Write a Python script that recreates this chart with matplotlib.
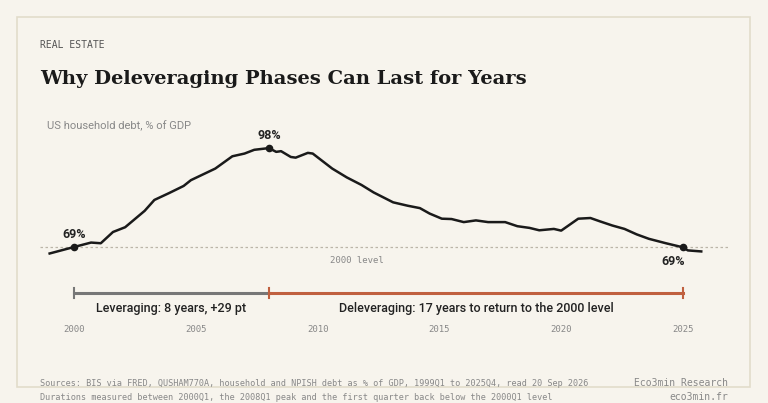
import matplotlib
matplotlib.use("Agg")
import matplotlib.pyplot as plt
from matplotlib.patches import Rectangle

years = [1999.0,2000.0,2000.7,2001.1,2001.6,2002.1,2002.9,2003.3,2003.9,2004.5,2004.8,2005.8,2006.5,2007.0,2007.4,2008.0,
         2008.3,2008.5,2008.9,2009.1,2009.6,2009.8,2010.6,2011.2,2011.8,2012.3,2013.1,2013.7,2014.2,2014.6,2015.1,2015.5,
         2016.0,2016.5,2017.0,2017.7,2018.2,2018.7,2019.1,2019.7,2020.0,2020.7,2021.2,2021.6,2022.1,2022.6,2023.1,2023.6,
         2024.3,2025.0,2025.2,2025.75]
debt = [67.1,69.0,70.3,70.1,73.4,74.8,79.6,82.8,84.8,86.9,88.6,92.0,95.6,96.4,97.5,98.0,
        96.9,97.1,95.4,95.2,96.6,96.4,92.0,89.4,87.2,85.0,82.1,81.1,80.4,78.8,77.3,77.2,
        76.3,76.8,76.3,76.3,75.1,74.6,73.9,74.3,73.8,77.3,77.5,76.5,75.3,74.3,72.7,71.4,
        70.1,68.9,68.0,67.7]
marks_x = [2000.0, 2008.0, 2025.0]
marks_y = [69.0, 98.0, 68.9]
mark_labels = ["69%", "98%", "69%"]
level_2000 = 69.0
tick_years = [2000, 2005, 2010, 2015, 2020, 2025]

W, H = 768, 403
fig = plt.figure(figsize=(7.68, 4.03), dpi=100)
bg = "#f7f4ed"
fig.patch.set_facecolor(bg)
fig.patches.append(Rectangle((17/W, 1-387/H), 733/W, 370/H, transform=fig.transFigure,
                             fill=False, ec="#e2dccb", lw=1.2))

ax = fig.add_axes([40/W, 1-340/H, 688/W, 220/H])
ax.set_facecolor("none")
ax.set_xlim(1998.604, 2026.848)
ax.set_ylim(41.73, 106.24)
ax.axis("off")

ax.axhline(level_2000, color="#bbb5a8", lw=0.9, ls=(0, (2, 2)))
ax.text(2011.6, 65.0, "2000 level", family="DejaVu Sans Mono", fontsize=6.5, color="#888", ha="center", va="center")
ax.plot(years, debt, color="#1a1a1a", lw=1.8, solid_joinstyle="round")
ax.scatter(marks_x, marks_y, s=20, color="#1a1a1a", zorder=3)
offs = [(0, 3.6), (0, 3.6), (-0.4, -4.2)]
for x, y, l, (dx, dy) in zip(marks_x, marks_y, mark_labels, offs):
    ax.text(x + dx, y + dy, l, ha="center", va="center", fontsize=9, fontweight="bold", color="#222", family="Roboto")

bar_y = 55.5
ax.plot([2000, 2008], [bar_y, bar_y], color="#777", lw=2.2, clip_on=False)
ax.plot([2008, 2025], [bar_y, bar_y], color="#c0603f", lw=2.2, clip_on=False)
for x, c in [(2000, "#777"), (2008, "#c0603f"), (2025, "#c0603f")]:
    ax.plot([x, x], [bar_y - 1.5, bar_y + 1.5], color=c, lw=1.5, clip_on=False)
ax.text(2004, 51.1, "Leveraging: 8 years, +29 pt", ha="center", va="center", fontsize=9, color="#222", family="Roboto", fontweight="medium")
ax.text(2016.5, 51.1, "Deleveraging: 17 years to return to the 2000 level", ha="center", va="center", fontsize=9, color="#222", family="Roboto", fontweight="medium")
for t in tick_years:
    ax.text(t, 44.7, str(t), ha="center", va="center", fontsize=6.5, color="#888", family="DejaVu Sans Mono")

fig.text(40/W, 1-45/H, "REAL ESTATE", fontsize=7, color="#555", family="DejaVu Sans Mono", va="center")
fig.text(40/W, 1-79/H, "Why Deleveraging Phases Can Last for Years", fontsize=14, fontweight="bold",
         color="#1a1a1a", family="DejaVu Serif", va="center")
fig.text(47/W, 1-126/H, "US household debt, % of GDP", fontsize=8, color="#888", family="Roboto", va="center")
fig.text(40/W, 1-383/H, "Sources: BIS via FRED, QUSHAM770A, household and NPISH debt as % of GDP, 1999Q1 to 2025Q4, read 20 Sep 2026",
         fontsize=6.1, color="#888", family="DejaVu Sans Mono", va="center")
fig.text(40/W, 1-397/H, "Durations measured between 2000Q1, the 2008Q1 peak and the first quarter back below the 2000Q1 level",
         fontsize=6.1, color="#888", family="DejaVu Sans Mono", va="center")
fig.text(728/W, 1-383/H, "Eco3min Research", fontsize=7, color="#888", family="DejaVu Sans Mono", va="center", ha="right")
fig.text(728/W, 1-397/H, "eco3min.fr", fontsize=7, color="#888", family="DejaVu Sans Mono", va="center", ha="right")

fig.savefig("out.png", dpi=100, facecolor=bg)
